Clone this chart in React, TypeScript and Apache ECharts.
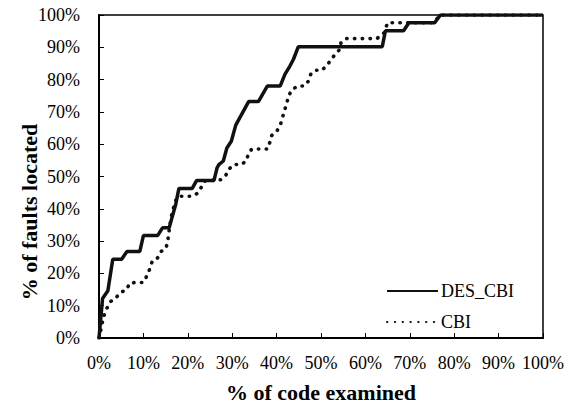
import React, { useEffect, useRef } from "react";
import * as echarts from "echarts";

const seriesNames = ["DES_CBI", "CBI"];

// [% of code examined, % of faults located]
const desCbiData: [number, number][] = [
  [0, 0], [0.8, 12.2], [2, 14.6], [3.1, 24.4], [5.1, 24.4], [6.3, 26.8], [9.2, 26.8],
  [10, 31.7], [13.2, 31.7], [14.3, 34.1], [15.8, 34.1], [17.3, 41.5], [18, 46.3],
  [21, 46.3], [22, 48.8], [25.9, 48.8], [26.6, 52.7], [27, 53.7], [28, 54.8],
  [28.8, 58.8], [29.8, 60.9], [30.8, 65.9], [33.7, 73.2], [35.9, 73.2], [37.9, 78],
  [40.8, 78], [41.9, 81.7], [43, 84.2], [43.8, 86.3], [44.9, 90.2], [63.8, 90.2],
  [64.5, 95.1], [68.6, 95.1], [69.8, 97.6], [75.6, 97.6], [76.9, 100], [100, 100],
];

const cbiData: [number, number][] = [
  [0, 0], [0.5, 3], [1, 6.5], [1.7, 9], [2.6, 11.3], [3.8, 12.4], [4.8, 14.1],
  [6.2, 14.9], [6.9, 17], [8.4, 17.2], [10, 17.2], [11, 19.8], [11.5, 21.7],
  [12, 23.8], [13.2, 24.8], [14, 26.8], [15.1, 27.8], [15.5, 30.2], [15.7, 32.4],
  [16, 35], [16.2, 37], [16.6, 39.5], [17.3, 42.6], [17.9, 43.9], [21, 43.9],
  [22.2, 44.8], [23.1, 46.8], [24, 48.8], [26.5, 48.8], [27.4, 49], [28.5, 50.2],
  [29.2, 52.2], [30.3, 53.7], [32, 53.7], [33.2, 54.8], [33.6, 56.8], [34.4, 58.5],
  [38, 58.5], [38.5, 60.7], [38.9, 62.7], [40, 63.9], [40.8, 65.8], [41.3, 68],
  [41.7, 70.2], [42.3, 72.6], [42.6, 74.6], [43.4, 76.8], [44.7, 78], [46.3, 78],
  [47.1, 79.4], [47.7, 81.7], [48.7, 82.9], [50.2, 82.9], [51.4, 84.5], [52.3, 86.3],
  [53.2, 87.8], [54.2, 89.3], [54.5, 91.4], [55.6, 92.7], [62.6, 92.7], [64.2, 94.5],
  [65, 97.6], [75.4, 97.6], [76.8, 100], [100, 100],
];

const xTitle = "% of code examined";
const yTitle = "% of faults located";

const FONT = "Liberation Serif";

export default function App() {
  const ref = useRef<HTMLDivElement>(null);
  useEffect(() => {
    if (!ref.current) return;
    const chart = echarts.init(ref.current, undefined, { renderer: "svg" });
    chart.setOption({
      animation: false,
      backgroundColor: "#fff",
      textStyle: { fontFamily: FONT, color: "#000" },
      grid: {
        left: 99,
        top: 15,
        width: 447,
        height: 328,
        show: true,
        borderColor: "#000",
        borderWidth: 1.5,
        backgroundColor: "transparent",
      },
      xAxis: {
        type: "value",
        min: 0,
        max: 100,
        interval: 10,
        name: xTitle,
        nameLocation: "middle",
        nameGap: 43,
        nameTextStyle: { fontFamily: FONT, fontWeight: "bold", fontSize: 22, color: "#000" },
        axisLine: { show: true, lineStyle: { color: "#000", width: 2 } },
        axisTick: { show: true, inside: true, length: 5, lineStyle: { color: "#000", width: 1 } },
        axisLabel: { formatter: "{value}%", fontFamily: FONT, fontSize: 18, color: "#000", margin: 16 },
        splitLine: { show: false },
      },
      yAxis: {
        type: "value",
        min: 0,
        max: 100,
        interval: 10,
        axisLine: { show: true, lineStyle: { color: "#000", width: 2 } },
        axisTick: { show: true, inside: true, length: 5, lineStyle: { color: "#000", width: 1 } },
        axisLabel: { formatter: "{value}%", fontFamily: FONT, fontSize: 18, color: "#000", margin: 19 },
        splitLine: { show: false },
      },
      legend: {
        orient: "vertical",
        left: 386,
        top: 282,
        padding: 0,
        itemWidth: 51,
        itemHeight: 14,
        itemGap: 13,
        itemStyle: { opacity: 0 },
        textStyle: { fontFamily: FONT, fontSize: 18, color: "#000", padding: [0, 0, 0, -2] },
        data: seriesNames,
      },
      graphic: [
        {
          type: "text",
          x: 29,
          y: 212,
          rotation: Math.PI / 2,
          style: {
            text: yTitle,
            fontFamily: FONT,
            fontWeight: "bold",
            fontSize: 22,
            fill: "#000",
            align: "center",
            verticalAlign: "middle",
          },
        },
      ],
      series: [
        {
          name: seriesNames[1],
          type: "line",
          data: cbiData,
          symbol: "none",
          lineStyle: { color: "#111", width: 3.6, type: [0.4, 7.4], cap: "round" },
          itemStyle: { color: "#111" },
          z: 2,
        },
        {
          name: seriesNames[0],
          type: "line",
          data: desCbiData,
          symbol: "none",
          lineStyle: { color: "#111", width: 3.5, type: "solid" },
          itemStyle: { color: "#111" },
          z: 3,
        },
      ],
    });
    return () => chart.dispose();
  }, []);
  return (
    <div
      ref={ref}
      style={{ position: "absolute", left: 0, top: 0, width: 567, height: 408 }}
    />
  );
}
